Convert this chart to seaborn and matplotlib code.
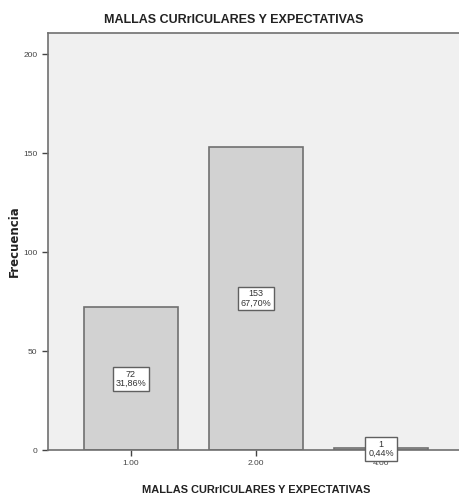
import numpy as np
import pandas as pd
import matplotlib
matplotlib.use('Agg')
import matplotlib.pyplot as plt
import seaborn as sns

# Datos de la tabla de frecuencias
categorias = ['1.00', '2.00', '4.00']
frecuencias = [72, 153, 1]
porcentajes = ['31,86%', '67,70%', '0,44%']
titulo = 'MALLAS CURrICULARES Y EXPECTATIVAS'

df = pd.DataFrame({'categoria': categorias, 'frecuencia': frecuencias})

sns.set_style('white')
plt.rcParams['font.family'] = ['Liberation Sans', 'DejaVu Sans']

fig = plt.figure(figsize=(4.59, 4.95), dpi=100)
ax = fig.add_axes([0.1046, 0.0909, 0.93, 0.8424])
ax.set_facecolor('#f0f0f0')

sns.barplot(data=df, x='categoria', y='frecuencia', color='#d2d2d2',
            edgecolor='#707070', linewidth=1.2, width=0.75, saturation=1, ax=ax)

# Etiquetas con frecuencia y porcentaje en el centro de cada barra
for i, (f, p) in enumerate(zip(frecuencias, porcentajes)):
    ax.text(i, f / 2, f'{f}\n{p}', ha='center', va='center', fontsize=6.5,
            color='#333333', linespacing=1.05,
            bbox=dict(boxstyle='square,pad=0.3', fc='white', ec='#606060', lw=1))

ax.set_xlim(-0.66, 2.75)
ax.set_ylim(0, 210.6)
ax.set_yticks([0, 50, 100, 150, 200])
ax.tick_params(axis='both', labelsize=6, colors='#444444', length=4, width=1,
               direction='out', left=True, bottom=True)
for s in ['left', 'bottom', 'top']:
    ax.spines[s].set_color('#707070')
    ax.spines[s].set_linewidth(1.2)
ax.spines['right'].set_visible(False)

ax.set_title(titulo, fontsize=9, fontweight='bold', color='#222222', pad=7, x=0.436)
ax.set_xlabel(titulo, fontsize=7.9, fontweight='bold', color='#222222')
ax.xaxis.set_label_coords(0.488, -0.085)
ax.set_ylabel('Frecuencia', fontsize=8.5, fontweight='bold', color='#222222',
              family=['DejaVu Sans'])
ax.yaxis.set_label_coords(-0.063, 0.5)

fig.savefig('out.png', dpi=100)
